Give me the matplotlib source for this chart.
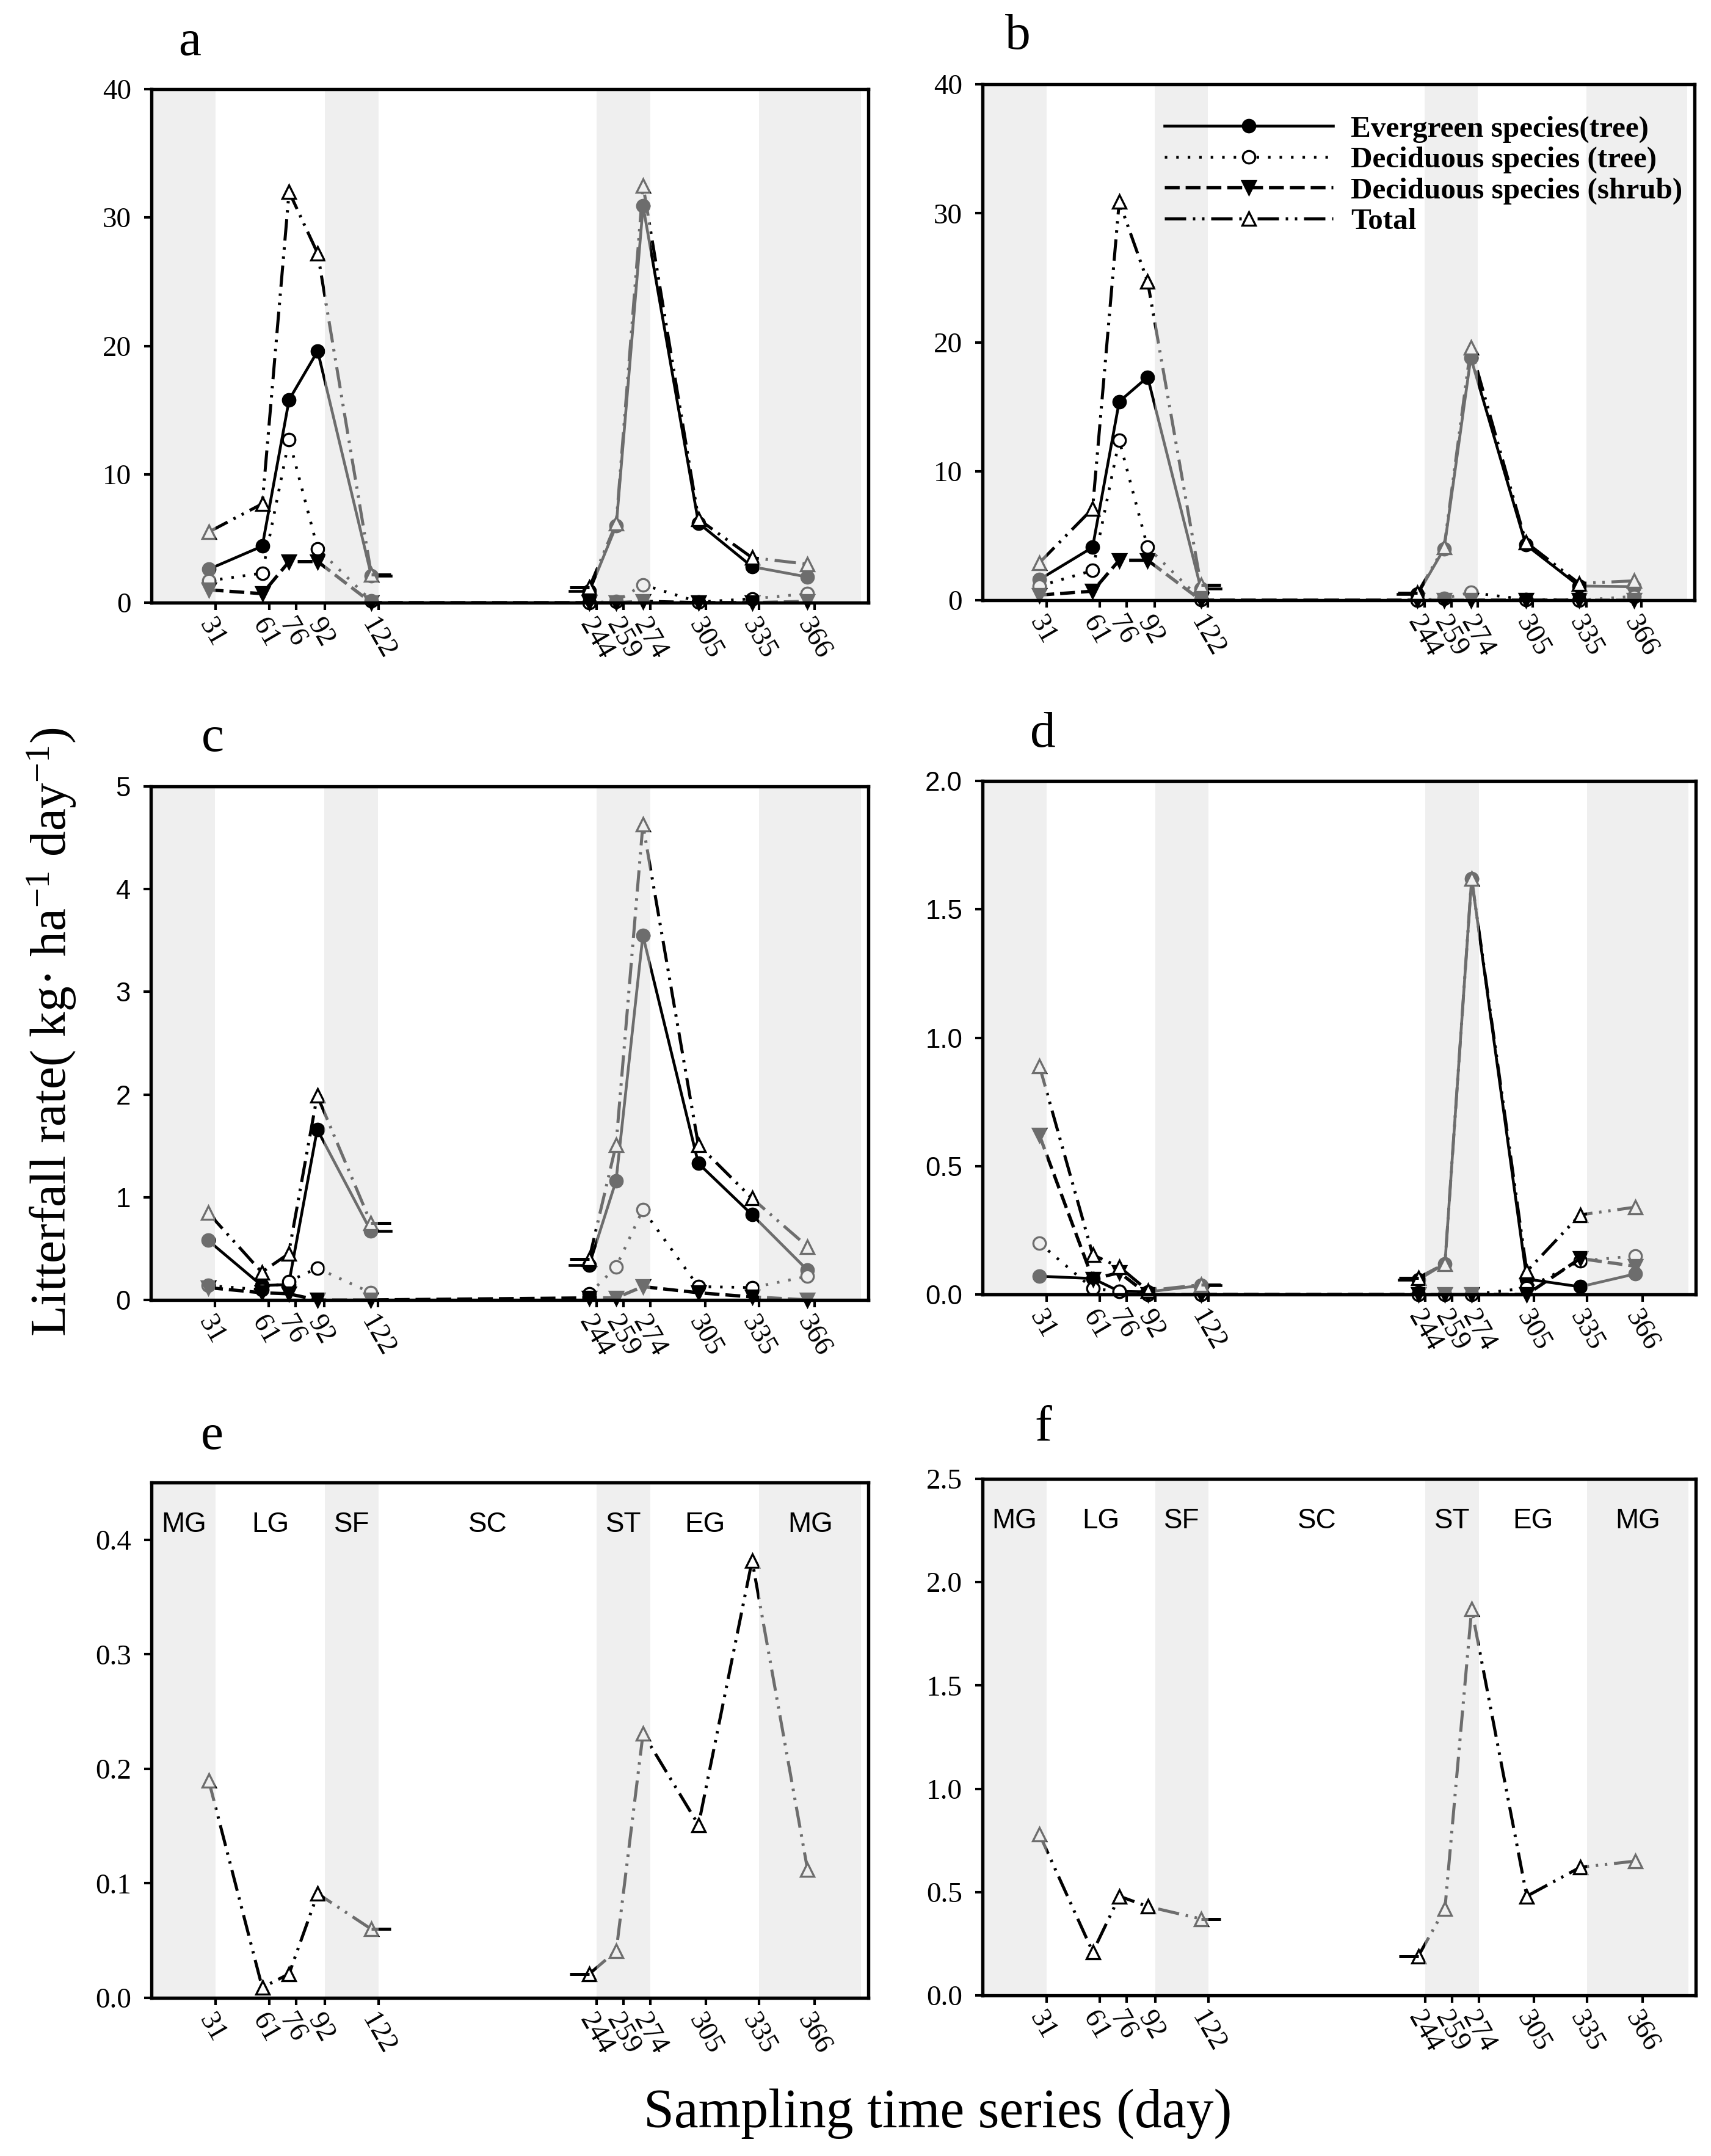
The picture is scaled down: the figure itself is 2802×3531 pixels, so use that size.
import numpy as np
import matplotlib
matplotlib.use("Agg")
import matplotlib.pyplot as plt
from matplotlib.lines import Line2D

# ---------------- data ----------------
days = [31, 61, 76, 92, 122, 244, 259, 274, 305, 335, 366]
tick_labels = ["31", "61", "76", "92", "122", "244", "259", "274", "305", "335", "366"]
phase_bounds = [31, 92, 122, 244, 274, 335]
season_names = ["MG", "LG", "SF", "SC", "ST", "EG", "MG"]
panel_letters = ["a", "b", "c", "d", "e", "f"]
series_names = ["Evergreen species(tree)", "Deciduous species (tree)",
                "Deciduous species (shrub)", "Total"]

a_evergreen = [2.6, 4.4, 15.8, 19.6, 2.1, 0.9, 6.0, 30.9, 6.2, 2.8, 2.0]
a_dec_tree = [1.7, 2.3, 12.7, 4.2, 0.15, 0.0, 0.1, 1.4, 0.05, 0.3, 0.7]
a_shrub = [1.0, 0.7, 3.2, 3.2, 0.0, 0.0, 0.0, 0.1, 0.0, 0.0, 0.1]
a_total = [5.5, 7.7, 32.0, 27.2, 2.2, 1.2, 6.2, 32.5, 6.5, 3.5, 3.0]

b_evergreen = [1.6, 4.1, 15.4, 17.3, 0.9, 0.45, 4.0, 18.8, 4.3, 1.1, 1.05]
b_dec_tree = [1.1, 2.3, 12.4, 4.1, 0.05, 0.0, 0.15, 0.6, 0.05, 0.0, 0.3]
b_shrub = [0.4, 0.7, 3.1, 3.1, 0.0, 0.0, 0.0, 0.0, 0.0, 0.0, 0.0]
b_total = [2.9, 7.1, 30.9, 24.7, 1.2, 0.55, 4.1, 19.6, 4.5, 1.3, 1.5]

c_evergreen = [0.58, 0.14, 0.15, 1.66, 0.67, 0.34, 1.16, 3.55, 1.33, 0.83, 0.29]
c_dec_tree = [0.14, 0.10, 0.18, 0.31, 0.07, 0.06, 0.32, 0.88, 0.13, 0.12, 0.23]
c_shrub = [0.12, 0.07, 0.06, 0.0, 0.0, 0.02, 0.02, 0.13, 0.07, 0.03, 0.0]
c_total = [0.85, 0.27, 0.45, 1.99, 0.75, 0.40, 1.51, 4.63, 1.51, 0.99, 0.52]

d_evergreen = [0.071, 0.062, 0.012, 0.01, 0.035, 0.057, 0.12, 1.62, 0.06, 0.03, 0.08]
d_dec_tree = [0.2, 0.023, 0.012, 0.0, 0.0, 0.0, 0.0, 0.0, 0.025, 0.13, 0.15]
d_shrub = [0.62, 0.06, 0.085, 0.0, 0.0, 0.0, 0.0, 0.0, 0.0, 0.14, 0.11]
d_total = [0.89, 0.154, 0.107, 0.015, 0.038, 0.065, 0.12, 1.62, 0.09, 0.31, 0.34]

e_total = [0.19, 0.009, 0.021, 0.091, 0.06, 0.021, 0.041, 0.231, 0.151, 0.382, 0.112]
f_total = [0.78, 0.21, 0.48, 0.43, 0.37, 0.19, 0.42, 1.87, 0.48, 0.62, 0.65]

# y axis settings per panel
ylims = [(0, 40), (0, 40), (0, 5), (0, 2.0), (0, 0.45), (0, 2.5)]
yticks = [[0, 10, 20, 30, 40], [0, 10, 20, 30, 40], [0, 1, 2, 3, 4, 5],
          [0.0, 0.5, 1.0, 1.5, 2.0], [0.0, 0.1, 0.2, 0.3, 0.4],
          [0.0, 0.5, 1.0, 1.5, 2.0, 2.5]]
ytick_fmt = ["{:.0f}", "{:.0f}", "{:.0f}", "{:.1f}", "{:.1f}", "{:.1f}"]

# ---------------- style ----------------
W, H = 2802, 3531
DPI = 300
SERIF = "Liberation Serif"
SANS = "Liberation Sans"
plt.rcParams["font.family"] = [SERIF, "DejaVu Serif"]
plt.rcParams["mathtext.fontset"] = "custom"
plt.rcParams["mathtext.rm"] = SERIF
plt.rcParams["mathtext.it"] = SERIF + ":italic"
plt.rcParams["mathtext.bf"] = SERIF + ":bold"

tick_shift = 4.0      # SigmaPlot-like offset of ticks/bands relative to points
stub_len = 11.0       # short line stubs at the data gap
xlim = (-1, 400)
band_end = 396

# panel rectangles in pixels: left, right, top, bottom
rects_px = [(248, 1422, 146, 987), (1609, 2775, 138, 983),
            (247, 1422, 1288, 2129), (1609, 2777, 1279, 2120),
            (248, 1422, 2428, 3272), (1609, 2777, 2422, 3268)]
letters_px = [(311, 70), (1667, 60), (348, 1210), (1708, 1203), (347, 2353), (1708, 2340)]

styles = {
    "ever": dict(color="black", lw=1.1, ls="-", marker="o", ms=4.9,
                 mfc="black", mec="black", mew=0.8),
    "dect": dict(color="black", lw=1.1, ls=(0, (0.9, 3.2)), marker="o", ms=4.9,
                 mfc="white", mec="black", mew=0.8),
    "shrub": dict(color="black", lw=1.3, ls=(0, (4.5, 1.8)), marker="v", ms=5.1,
                  mfc="black", mec="black", mew=0.8),
    "total": dict(color="black", lw=1.2, ls=(0, (7.0, 2.2, 0.8, 2.2, 0.8, 2.2)),
                  marker="^", ms=5.3, mfc="white", mec="black", mew=0.8),
}

fig = plt.figure(figsize=(W / DPI, H / DPI), dpi=DPI)

def add_axes(px):
    l, r, t, b = px
    return fig.add_axes([l / W, 1 - b / H, (r - l) / W, (b - t) / H])

x = np.array(days, dtype=float)
gap = 5  # index of first point after the data gap

def plot_broken(ax, y, st, stubs=True):
    y = np.array(y, dtype=float)
    ax.plot(x[:gap], y[:gap], clip_on=False, zorder=2, **st)
    ax.plot(x[gap:], y[gap:], clip_on=False, zorder=2, **st)
    if stubs:
        sk = {k: v for k, v in st.items() if k in ("color", "lw", "ls")}
        ax.plot([x[gap - 1], x[gap - 1] + stub_len], [y[gap - 1], y[gap - 1]],
                zorder=2, **sk)
        ax.plot([x[gap] - stub_len, x[gap]], [y[gap], y[gap]], zorder=2, **sk)

def plot_full(ax, y, st):
    ax.plot(x, np.array(y, dtype=float), clip_on=False, zorder=2, **st)

panel_series = [
    (a_evergreen, a_dec_tree, a_shrub, a_total),
    (b_evergreen, b_dec_tree, b_shrub, b_total),
    (c_evergreen, c_dec_tree, c_shrub, c_total),
    (d_evergreen, d_dec_tree, d_shrub, d_total),
    (None, None, None, e_total),
    (None, None, None, f_total),
]

band_edges = [b + tick_shift for b in phase_bounds]
bands = [(xlim[0], band_edges[0]), (band_edges[1], band_edges[2]),
         (band_edges[3], band_edges[4]), (band_edges[5], band_end)]
edges_all = [xlim[0]] + band_edges + [band_end]
season_mid = [0.5 * (edges_all[i] + edges_all[i + 1]) for i in range(len(season_names))]

for i, ax_px in enumerate(rects_px):
    ax = add_axes(ax_px)
    ev, dt, sh, tot = panel_series[i]
    if ev is not None:
        plot_broken(ax, ev, styles["ever"])
        plot_broken(ax, dt, styles["dect"], stubs=False)
        plot_full(ax, sh, styles["shrub"])
    plot_broken(ax, tot, styles["total"])

    for (x0, x1) in bands:
        ax.axvspan(x0, x1, facecolor="#e0e0e0", alpha=0.49, lw=0, zorder=3)

    ax.set_xlim(*xlim)
    ax.set_ylim(*ylims[i])
    ax.set_xticks([d + tick_shift for d in days])
    ax.set_xticklabels(tick_labels, rotation=-60, ha="left", va="top",
                       rotation_mode="anchor", fontsize=11, family=SERIF)
    ax.set_yticks(yticks[i])
    yfam = SANS if i in (2, 3) else SERIF
    ax.set_yticklabels([ytick_fmt[i].format(v) for v in yticks[i]],
                       fontsize=11.3 if yfam == SERIF else 10.5, family=yfam)
    ax.tick_params(axis="both", direction="out", length=2.9, width=1.0,
                   top=False, right=False)
    ax.tick_params(axis="x", pad=1.5)
    ax.tick_params(axis="y", pad=5)
    for sp in ax.spines.values():
        sp.set_linewidth(1.3)
        sp.set_zorder(5)

    if i >= 4:
        for name, xm in zip(season_names, season_mid):
            ax.text(xm, 0.918, name, transform=ax.get_xaxis_transform(),
                    ha="center", va="center", fontsize=11, family=SANS, zorder=6)

    lx, ly = letters_px[i]
    fig.text(lx / W, 1 - ly / H, panel_letters[i], ha="center", va="center",
             fontsize=20, family=SERIF)

    if i == 1:
        handles = [Line2D([], [], **styles[k]) for k in ["ever", "dect", "shrub", "total"]]
        ax.legend(handles, series_names, loc="upper left",
                  bbox_to_anchor=(0.256, 0.94), frameon=False,
                  borderaxespad=0, borderpad=0, handlelength=5.6,
                  handletextpad=0.6, labelspacing=0.12, numpoints=1,
                  prop=dict(family=SERIF, weight="bold", size=11.8))

fig.text(85 / W, 1 - 1690 / H,
         "Litterfall rate( kg\u00b7 ha$^{-1}$ day$^{-1}$)",
         rotation=90, ha="center", va="center", fontsize=20, family=SERIF)
fig.text(1536 / W, 1 - 3484 / H, "Sampling time series (day)",
         ha="center", va="baseline", fontsize=21.5, family=SERIF)

fig.savefig("out.png", dpi=DPI)
